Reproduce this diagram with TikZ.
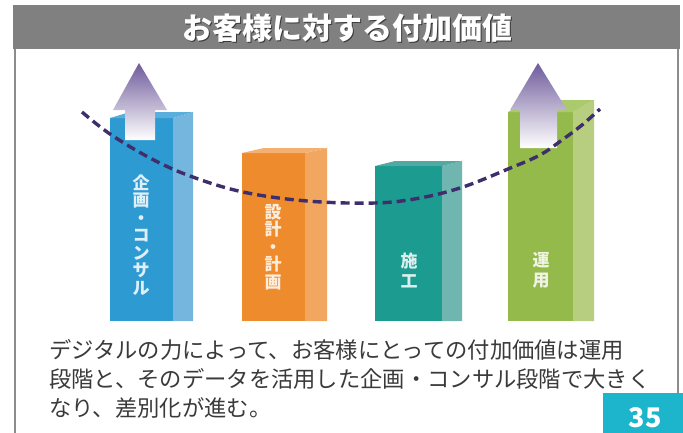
\documentclass[tikz,border=0pt]{standalone}
\usepackage{fontspec}
\setmainfont{Noto Sans CJK JP}
\usetikzlibrary{calc}

% palette
\definecolor{barGray}{HTML}{808080}
\definecolor{frameGray}{HTML}{8C8C8C}
\definecolor{blueF}{HTML}{2E9AD2}
\definecolor{blueS}{HTML}{74B6DE}
\definecolor{blueT}{HTML}{5AAEDC}
\definecolor{orangeF}{HTML}{EE8B2C}
\definecolor{orangeS}{HTML}{F2A760}
\definecolor{orangeT}{HTML}{F4B070}
\definecolor{tealF}{HTML}{1C9B90}
\definecolor{tealS}{HTML}{6EB6AF}
\definecolor{tealT}{HTML}{4FAAA2}
\definecolor{greenF}{HTML}{95BA4C}
\definecolor{greenS}{HTML}{B7CD80}
\definecolor{greenT}{HTML}{AACA6C}
\definecolor{arrowTop}{HTML}{6F5B9B}
\definecolor{curveCol}{HTML}{3E2F6C}
\definecolor{bodyText}{HTML}{3A3A3A}
\definecolor{pageTeal}{HTML}{1DB5CC}

\tikzset{
  px/.style={x=1pt,y=-1pt},
  frameline/.style={draw=frameGray,line width=2pt},
  bartext/.style={text=white,opacity=0.85,align=center,inner sep=0pt,
    font=\fontsize{17}{17.5}\bfseries},
  bartexttwo/.style={bartext,font=\fontsize{17}{20}\bfseries},
  upshade/.style={top color=arrowTop,bottom color=white,draw=none},
  valuecurve/.style={draw=curveCol,line width=3.4pt,dash pattern=on 9pt off 5pt},
  bodyline/.style={anchor=base west,inner sep=0pt,text=bodyText,
    font=\fontsize{22.3}{29}\selectfont},
}

\begin{document}
\begin{tikzpicture}[px]
\useasboundingbox (0,0) rectangle (683,432);
\clip (0,0) rectangle (683,432);
\fill[white] (0,0) rectangle (683,432);

% outer frame and heading bar
\draw[frameline] (15,48) -- (15,434);
\draw[frameline] (678,48) -- (678,400);
\fill[barGray] (13,5) rectangle (680,49);
\node[text=black,opacity=0.55,font=\fontsize{30}{31}\bfseries] at (348.5,29.5) {お客様に対する付加価値};
\node (title) [text=white,font=\fontsize{30}{31}\bfseries] at (347,28) {お客様に対する付加価値};

% bars: front face, side face, top face
% blue
\fill[blueF] (110,118) rectangle (173,321);
\fill[blueS] (173,118) -- (193,112) -- (193,321) -- (173,321) -- cycle;
\fill[blueT] (110,118) -- (173,118) -- (193,112) -- (130,112) -- cycle;
% orange
\fill[orangeF] (242,153) rectangle (305,321);
\fill[orangeS] (305,153) -- (327,148) -- (327,321) -- (305,321) -- cycle;
\fill[orangeT] (242,153) -- (305,153) -- (327,148) -- (264,148) -- cycle;
% teal
\fill[tealF] (375,166) rectangle (442,321);
\fill[tealS] (442,166) -- (462,161) -- (462,321) -- (442,321) -- cycle;
\fill[tealT] (375,166) -- (442,166) -- (462,161) -- (395,161) -- cycle;
% green
\fill[greenF] (508,112) rectangle (573,321);
\fill[greenS] (573,112) -- (594,100) -- (594,321) -- (573,321) -- cycle;
\fill[greenT] (508,112) -- (573,112) -- (594,100) -- (529,100) -- cycle;

% labels on the bars
\node (lplan) [bartext] at (141,235) {企\\画\\・\\コ\\ン\\サ\\ル};
\node (ldesign) [bartext] at (273,247) {設\\計\\・\\計\\画};
\node (lbuild) [bartexttwo] at (409,270) {施\\工};
\node (loper) [bartexttwo] at (541,270) {運\\用};

% rising-value arrows
\shade[upshade] (139,63) -- (167,110) -- (155,110) -- (155,140) -- (125,140)
  -- (125,110) -- (113,110) -- cycle;
\shade[upshade] (538,63) -- (567,110) -- (557,110) -- (557,148) -- (520,148)
  -- (520,110) -- (510,110) -- cycle;

% value curve
\draw[valuecurve] plot[smooth,tension=0.6] coordinates {
  (82,112) (110,134) (150,158) (190,176) (243,192) (307,201) (375,203)
  (420,198) (463,187) (508,169) (540,155) (562,140) (582,125) (600,109)};

% explanation
\node (t1) [bodyline] at (49,358) {デジタルの力によって、お客様にとっての付加価値は運用};
\node (t2) [bodyline] at (49,387) {段階と、そのデータを活用した企画・コンサル段階で大きく};
\node (t3) [bodyline] at (49,416) {なり、差別化が進む。};

% page number
\fill[pageTeal] (603,393) rectangle (685,434);
\node (page) [text=white,font=\fontsize{27}{28}\bfseries,anchor=north] at (645,404) {35};
\end{tikzpicture}
\end{document}
